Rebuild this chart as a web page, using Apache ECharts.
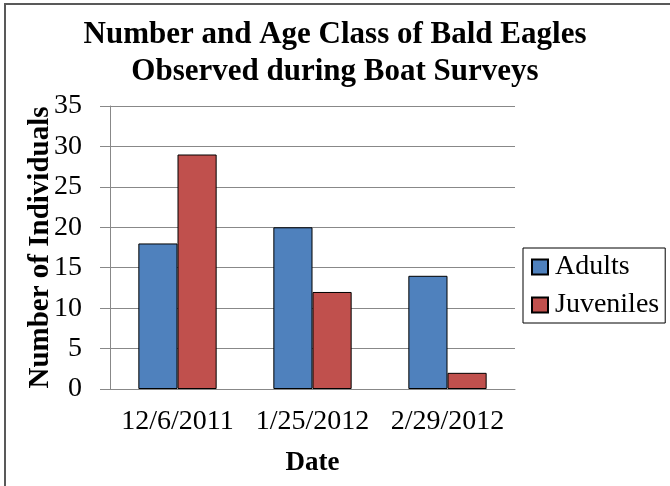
<!DOCTYPE html>
<html>
<head>
<meta charset="utf-8">
<script src="https://cdn.jsdelivr.net/npm/echarts@6/dist/echarts.min.js"></script>
<style>
    html, body { margin: 0; padding: 0; background: #fff; }
    #chart { width: 670px; height: 486px; }
</style>
</head>
<body>
<div id="chart"></div>
<script>
    // data
    var dates = ['12/6/2011', '1/25/2012', '2/29/2012'];
    var adults = [18, 20, 14];
    var juveniles = [29, 12, 2];

    var serif = '"Liberation Serif", "DejaVu Serif", serif';

    var chart = echarts.init(document.getElementById('chart'));
    chart.setOption({
        animation: false,
        backgroundColor: '#fff',
        textStyle: { fontFamily: serif },
        title: {
            text: 'Number and Age Class of Bald Eagles\nObserved during Boat Surveys',
            left: 'center',
            top: 11,
            textStyle: {
                fontFamily: serif,
                fontWeight: 'bold',
                fontSize: 31,
                lineHeight: 37,
                color: '#000'
            }
        },
        graphic: [{
            type: 'rect',
            shape: { x: 5, y: 4, width: 700, height: 520 },
            style: { fill: null, stroke: '#595959', lineWidth: 2 }
        }],
        legend: {
            orient: 'vertical',
            left: 523,
            top: 248,
            padding: [5, 6, 4, 8],
            itemGap: 10,
            itemWidth: 16,
            itemHeight: 15,
            icon: 'rect',
            borderColor: '#000',
            borderWidth: 1,
            textStyle: { fontFamily: serif, fontSize: 28, lineHeight: 28, color: '#000', padding: [0, 0, 0, 2] },
            data: ['Adults', 'Juveniles']
        },
        grid: { left: 110, right: 155, top: 106, bottom: 97 },
        xAxis: {
            type: 'category',
            data: dates,
            name: 'Date',
            nameLocation: 'middle',
            nameGap: 61,
            nameMoveOverlap: false,
            nameTextStyle: { fontFamily: serif, fontSize: 27, fontWeight: 'bold', color: '#000' },
            axisLine: { lineStyle: { color: '#888' } },
            axisTick: { length: 7, lineStyle: { color: '#888' } },
            axisLabel: { fontSize: 28, color: '#000', margin: 19, fontFamily: serif, interval: 0 }
        },
        yAxis: {
            type: 'value',
            min: 0,
            max: 35,
            interval: 5,
            name: 'Number of Individuals',
            nameLocation: 'middle',
            nameGap: 55,
            nameMoveOverlap: false,
            nameTextStyle: { fontFamily: serif, fontSize: 29, fontWeight: 'bold', color: '#000' },
            axisLine: { show: true, lineStyle: { color: '#888' } },
            axisTick: { show: true, length: 10, lineStyle: { color: '#888' } },
            splitLine: { lineStyle: { color: '#888' } },
            axisLabel: { fontSize: 28, color: '#000', margin: 28, fontFamily: serif }
        },
        series: [{
            name: 'Adults',
            type: 'bar',
            data: adults,
            barGap: '0%',
            barCategoryGap: '42%',
            itemStyle: { color: '#4F81BD', borderColor: '#000', borderWidth: 1 }
        }, {
            name: 'Juveniles',
            type: 'bar',
            data: juveniles,
            itemStyle: { color: '#C0504D', borderColor: '#000', borderWidth: 1 }
        }]
    });
</script>
</body>
</html>
